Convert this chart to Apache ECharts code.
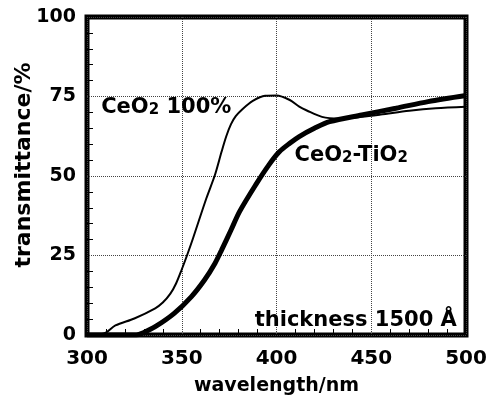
<!DOCTYPE html>
<html>
<head>
<meta charset="utf-8">
<script src="https://cdn.jsdelivr.net/npm/echarts@6/dist/echarts.min.js"></script>
<style>
  html, body { margin: 0; padding: 0; background: #fff; }
</style>
</head>
<body>
<div id="echars" style="width: 496px; height: 404px"></div>
<script>
// wavelength (nm) / transmittance (%)
var ceo2Wl = [300, 309, 315, 325, 336, 340, 344, 347, 350, 353, 356, 363, 367.5, 371, 373.5, 376, 378.5, 382, 387.5, 394, 400, 407, 412, 416, 424, 433, 445, 455, 470, 484, 500];
var ceo2T = [0, 0.5, 3, 5.2, 8.4, 10.2, 13, 16.2, 20.6, 25.4, 30.5, 43, 50.3, 57.6, 62.5, 66.3, 68.8, 71, 73.6, 75.2, 75.3, 73.9, 71.8, 70.6, 68.6, 68.1, 68.6, 69.3, 70.5, 71.3, 71.8];

var mixWl = [300, 326, 330, 336, 346, 355, 362, 367.5, 371, 376, 380.5, 389, 396, 401.5, 407, 412, 420, 428, 445, 463, 480, 500];
var mixT = [0, 0, 0.8, 2.6, 6.8, 12, 17.3, 22.5, 26.7, 33, 38.8, 47.2, 53.5, 57.6, 60.3, 62.4, 65, 67.1, 69.2, 71.3, 73.4, 75.3];

var xTicks = [300, 350, 400, 450, 500];
var yTicks = [0, 25, 50, 75, 100];

var font = "DejaVu Sans";

function pairs(xs, ys) {
  return xs.map(function (x, i) {
    return [x, ys[i]];
  });
}

var rich = {
  t: { fontFamily: font, fontWeight: "bold", fontSize: 21, color: "#000", lineHeight: 26, verticalAlign: "bottom" },
  s: { fontFamily: font, fontWeight: "bold", fontSize: 15, color: "#000", lineHeight: 22, verticalAlign: "bottom" },
};

function note(x, y, text) {
  return {
    coord: [x, y],
    symbol: "circle",
    symbolSize: 0,
    label: { show: true, position: "right", distance: 0, formatter: text, rich: rich },
  };
}

var options = {
  animation: false,
  backgroundColor: "#fff",
  grid: {
    left: 87,
    right: 30,
    top: 17,
    bottom: 69,
    outerBoundsMode: "none",
    show: true,
    borderColor: "#000",
    borderWidth: 5,
  },
  xAxis: {
    type: "value",
    min: 300,
    max: 500,
    interval: 50,
    name: "wavelength/nm",
    nameLocation: "middle",
    nameGap: 42,
    nameMoveOverlap: false,
    nameTextStyle: { fontFamily: font, fontWeight: "bold", fontSize: 19, color: "#000" },
    axisLine: { show: false },
    axisTick: { show: false, inside: true },
    minorTick: { show: true, splitNumber: 5, length: 6, lineStyle: { color: "#000" } },
    axisLabel: {
      margin: 14,
      fontFamily: font,
      fontWeight: "bold",
      fontSize: 20,
      color: "#000",
      formatter: function (v) {
        return xTicks.indexOf(v) >= 0 ? String(v) : "";
      },
    },
    splitLine: { show: true, lineStyle: { color: "#444", width: 1, type: "dotted" } },
  },
  yAxis: {
    type: "value",
    min: 0,
    max: 100,
    interval: 25,
    name: "transmittance/%",
    nameLocation: "middle",
    nameGap: 52,
    nameMoveOverlap: false,
    nameTextStyle: { fontFamily: font, fontWeight: "bold", fontSize: 22, color: "#000", padding: [0, 0, 0, 22] },
    axisLine: { show: false },
    axisTick: { show: false, inside: true },
    minorTick: { show: true, splitNumber: 5, length: 6, lineStyle: { color: "#000" } },
    axisLabel: {
      margin: 11,
      fontFamily: font,
      fontWeight: "bold",
      fontSize: 19,
      color: "#000",
      formatter: function (v) {
        return yTicks.indexOf(v) >= 0 ? String(v) : "";
      },
    },
    splitLine: { show: true, lineStyle: { color: "#444", width: 1, type: "dotted" } },
  },
  series: [
    {
      name: "CeO2 100%",
      type: "line",
      data: pairs(ceo2Wl, ceo2T),
      smooth: 0.3,
      showSymbol: false,
      lineStyle: { color: "#000", width: 2 },
      markPoint: {
        silent: true,
        data: [note(307.5, 72.3, "{t|CeO}{s|2}{t| 100%}")],
      },
    },
    {
      name: "CeO2-TiO2",
      type: "line",
      data: pairs(mixWl, mixT),
      smooth: 0.3,
      showSymbol: false,
      lineStyle: { color: "#000", width: 5 },
      markPoint: {
        silent: true,
        data: [
          note(409.5, 57.2, "{t|CeO}{s|2}{t|-TiO}{s|2}"),
          note(388.5, 5.3, "{t|thickness 1500 Å}"),
        ],
      },
    },
  ],
};

var myChart = echarts.init(document.getElementById("echars"));
myChart.setOption(options);
</script>
</body>
</html>
